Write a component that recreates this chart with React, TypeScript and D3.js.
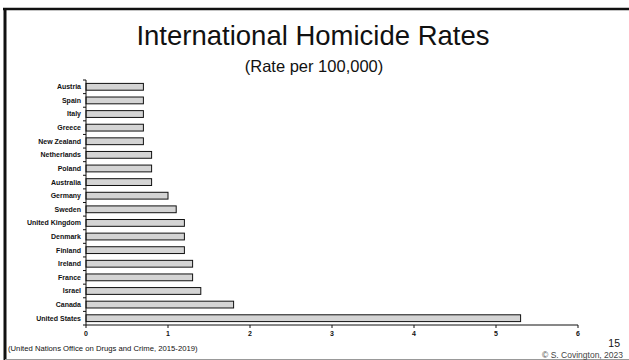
import React from 'react';
import * as d3 from 'd3';

const countries = [
  'Austria', 'Spain', 'Italy', 'Greece', 'New Zealand', 'Netherlands', 'Poland', 'Australia',
  'Germany', 'Sweden', 'United Kingdom', 'Denmark', 'Finland', 'Ireland', 'France', 'Israel',
  'Canada', 'United States',
];
const rates = [0.7, 0.7, 0.7, 0.7, 0.7, 0.8, 0.8, 0.8, 1.0, 1.1, 1.2, 1.2, 1.2, 1.3, 1.3, 1.4, 1.8, 5.3];
const xTicks = [0, 1, 2, 3, 4, 5, 6];

const W = 629;
const H = 360;
const margin = { top: 80, right: 51, bottom: 35, left: 86 };

const App = () => {
  const x = d3.scaleLinear().domain([0, 6]).range([margin.left, W - margin.right]);
  const y = d3
    .scaleBand<string>()
    .domain(countries)
    .range([margin.top, H - margin.bottom])
    .paddingInner(0.5)
    .paddingOuter(0.25);
  const step = y.step();
  const y0 = margin.top;
  const y1 = H - margin.bottom;
  const font = 'Liberation Sans, Arial, Helvetica, sans-serif';

  return (
    <svg width={W} height={H} style={{ position: 'absolute', left: 0, top: 0 }} fontFamily={font}>
      <rect width={W} height={H} fill="#fff" />
      {/* slide frame */}
      <line x1={3} x2={W} y1={9} y2={9} stroke="#111" strokeWidth={2.5} />
      <line x1={5} x2={5} y1={8} y2={H} stroke="#111" strokeWidth={3} />
      <line x1={5} x2={W} y1={359.5} y2={359.5} stroke="#999" strokeWidth={1} />

      <text x={313} y={45} textAnchor="middle" fontSize={27.5} fill="#111">
        International Homicide Rates
      </text>
      <text x={314} y={72} textAnchor="middle" fontSize={16.5} fill="#111">
        (Rate per 100,000)
      </text>

      {/* bars */}
      {countries.map((c, i) => (
        <rect
          key={c}
          x={x(0)}
          y={y(c)!}
          width={x(rates[i]) - x(0)}
          height={y.bandwidth()}
          fill="#d4d4d4"
          stroke="#111"
          strokeWidth={1}
        />
      ))}

      {/* y axis */}
      <line x1={x(0)} x2={x(0)} y1={y0} y2={y1} stroke="#111" strokeWidth={1} />
      {d3.range(countries.length + 1).map((i) => (
        <line key={i} x1={x(0) - 3} x2={x(0)} y1={y0 + i * step} y2={y0 + i * step} stroke="#111" strokeWidth={1} />
      ))}
      {countries.map((c) => (
        <text
          key={c}
          x={x(0) - 5}
          y={y(c)! + y.bandwidth() / 2}
          dy="0.35em"
          textAnchor="end"
          fontSize={7}
          fontWeight="bold"
          fill="#111"
        >
          {c}
        </text>
      ))}

      {/* x axis */}
      <line x1={x(0)} x2={x(6)} y1={y1} y2={y1} stroke="#111" strokeWidth={1} />
      {xTicks.map((t) => (
        <g key={t} transform={`translate(${x(t)},${y1})`}>
          <line y1={0} y2={3} stroke="#111" strokeWidth={1} />
          <text y={11} textAnchor="middle" fontSize={7} fontWeight="bold" fill="#111">
            {t}
          </text>
        </g>
      ))}

      <text x={8} y={351} fontSize={7.7} fill="#111">
        (United Nations Office on Drugs and Crime, 2015-2019)
      </text>
      <text x={620} y={347} textAnchor="end" fontSize={10.5} fill="#111">
        15
      </text>
      <text x={623} y={358} textAnchor="end" fontSize={8.5} fill="#444">
        © S. Covington, 2023
      </text>
    </svg>
  );
};

export default App;
